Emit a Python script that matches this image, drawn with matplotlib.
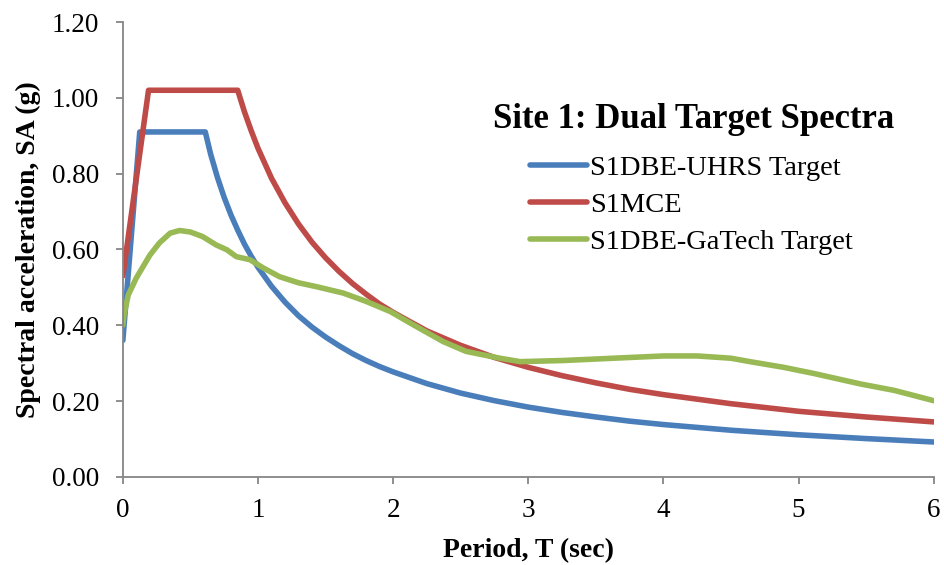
import matplotlib
matplotlib.use("Agg")
import matplotlib.pyplot as plt

# Period (sec) and spectral acceleration (g) for each target spectrum
uhrs_T = [0.0, 0.125, 0.61, 0.65, 0.7, 0.75, 0.8, 0.85, 0.9, 0.95, 1.0, 1.1, 1.2, 1.3,
          1.4, 1.5, 1.6, 1.7, 1.8, 1.9, 2.0, 2.25, 2.5, 2.75, 3.0, 3.25, 3.5, 3.75, 4.0,
          4.5, 5.0, 5.5, 6.0]
uhrs_SA = [0.36, 0.91, 0.91, 0.851, 0.790, 0.737, 0.691, 0.651, 0.614, 0.582, 0.553,
           0.503, 0.461, 0.425, 0.395, 0.369, 0.346, 0.325, 0.307, 0.291, 0.277, 0.246,
           0.221, 0.201, 0.184, 0.170, 0.158, 0.147, 0.138, 0.123, 0.111, 0.101, 0.092]

mce_T = [0.0, 0.19, 0.85, 0.9, 0.95, 1.0, 1.1, 1.2, 1.3, 1.4, 1.5, 1.6, 1.7, 1.8, 1.9,
         2.0, 2.25, 2.5, 2.75, 3.0, 3.25, 3.5, 3.75, 4.0, 4.5, 5.0, 5.5, 6.0]
mce_SA = [0.53, 1.02, 1.02, 0.963, 0.913, 0.867, 0.788, 0.723, 0.667, 0.619, 0.578, 0.542,
          0.510, 0.482, 0.456, 0.434, 0.385, 0.347, 0.315, 0.289, 0.267, 0.248, 0.231,
          0.217, 0.193, 0.173, 0.158, 0.145]

gatech_T = [0.0, 0.01, 0.04, 0.1, 0.15, 0.2, 0.27, 0.35, 0.42, 0.5, 0.59, 0.69, 0.77, 0.84,
            0.94, 1.04, 1.16, 1.3, 1.43, 1.63, 1.8, 1.98, 2.17, 2.37, 2.54, 2.79, 2.94, 3.26,
            3.63, 4.0, 4.25, 4.5, 4.64, 4.89, 5.11, 5.46, 5.71, 6.0]
gatech_SA = [0.40, 0.43, 0.48, 0.525, 0.555, 0.585, 0.617, 0.643, 0.65, 0.646, 0.634, 0.612,
             0.599, 0.581, 0.573, 0.551, 0.528, 0.512, 0.502, 0.485, 0.463, 0.436, 0.397,
             0.357, 0.331, 0.313, 0.304, 0.307, 0.313, 0.319, 0.319, 0.313, 0.304, 0.289,
             0.273, 0.245, 0.228, 0.201]

series_labels = ["S1DBE-UHRS Target", "S1MCE", "S1DBE-GaTech Target"]
series_colors = ["#4a7ebb", "#be4b48", "#98b954"]
chart_title = "Site 1: Dual Target Spectra"

x_ticks = [0, 1, 2, 3, 4, 5, 6]
y_ticks = [0.0, 0.2, 0.4, 0.6, 0.8, 1.0, 1.2]

plt.rcParams["font.family"] = ["Liberation Serif", "DejaVu Serif"]

fig = plt.figure(figsize=(9.45, 5.65), dpi=100)
ax = fig.add_axes([0.130, 0.156, 0.858, 0.805])

handles = []
for T, SA, lab, col in zip([uhrs_T, mce_T, gatech_T], [uhrs_SA, mce_SA, gatech_SA],
                           series_labels, series_colors):
    h, = ax.plot(T, SA, color=col, lw=4.0, label=lab, solid_joinstyle="round",
                 solid_capstyle="round")
    handles.append(h)

ax.set_xlim(0, 6)
ax.set_ylim(0, 1.2)
ax.set_xticks(x_ticks)
ax.set_xticklabels([str(t) for t in x_ticks])
ax.set_yticks(y_ticks)
ax.set_yticklabels([f"{v:.2f}" for v in y_ticks])

gray = "#868686"
for side in ("top", "right"):
    ax.spines[side].set_visible(False)
for side in ("left", "bottom"):
    ax.spines[side].set_color(gray)
    ax.spines[side].set_linewidth(1.3)
ax.tick_params(axis="both", colors=gray, direction="out", length=5, width=1.3,
               labelsize=19.5, labelcolor="black")
ax.tick_params(axis="x", pad=10)
ax.tick_params(axis="y", pad=12)

ax.set_xlabel("Period, T (sec)", fontsize=20, fontweight="bold", labelpad=11)
ax.set_ylabel("Spectral acceleration, SA (g)", fontsize=20, fontweight="bold", labelpad=8)

fig.text(493 / 945, 1 - 128 / 565, chart_title, fontsize=25, fontweight="bold",
         ha="left", va="baseline")

fig.legend(handles=handles, loc="upper left", bbox_to_anchor=(530 / 945, 1 - 155 / 565),
           frameon=False, fontsize=20.5, handlelength=2.0, handletextpad=0.1,
           labelspacing=0.39, borderpad=0, borderaxespad=0)

fig.savefig("out.png", dpi=100)
